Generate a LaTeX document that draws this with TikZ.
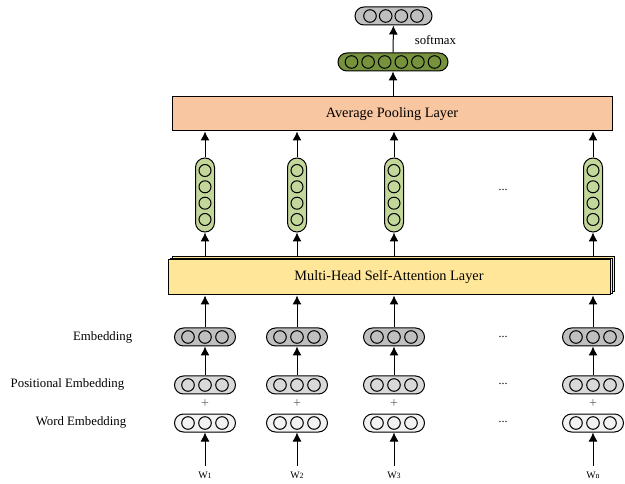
\documentclass[tikz,border=0pt]{standalone}
\usepackage{fontspec}
\setmainfont{Liberation Serif}
\usepackage{tikz}
\usetikzlibrary{calc,arrows.meta,shadows,positioning}

\definecolor{embgray}{HTML}{BFBFBF}
\definecolor{posgray}{HTML}{D9D9D9}
\definecolor{wordgray}{HTML}{F2F2F2}
\definecolor{hidgreen}{HTML}{C4D79B}
\definecolor{softgreen}{HTML}{76923C}
\definecolor{poolorange}{HTML}{F8C6A0}
\definecolor{attyellow}{HTML}{FFE699}

\begin{document}
\begin{tikzpicture}[x=1pt, y=1pt, line width=1pt,
    hcap/.style={draw, inner sep=0pt, minimum width=61pt, minimum height=18pt, rounded corners=9pt},
    vcap/.style={draw, inner sep=0pt, minimum width=19pt, minimum height=74pt, rounded corners=9.5pt, fill=hidgreen},
    arr/.style={-{Latex[length=9pt,width=9pt]}},
    lbl/.style={font=\fontsize{12.8}{14}\selectfont},
    layer/.style={draw, font=\fontsize{14.3}{16}\selectfont}]
    \useasboundingbox (0,0) rectangle (625,-484);

    \node[hcap, fill=embgray, minimum width=77pt] (out) at (393.5,-16) {};
    \foreach \d in {-23.5,-7.8,7.8,23.5} \draw[fill=embgray] ($(out)+(\d,0)$) circle (6.3pt);
    \node[hcap, fill=softgreen, minimum width=110pt] (soft) at (393,-62) {};
    \foreach \d in {-41.5,-24.9,-8.3,8.3,24.9,41.5} \draw[fill=softgreen] ($(soft)+(\d,0)$) circle (6.3pt);
    \node[lbl, anchor=west] (nsoft) at (411,-40) {softmax};
    \draw[arr] (soft) -- (out);

    \node[layer, fill=poolorange, minimum width=440pt, minimum height=34pt] (pool) at (392,-114) {Average Pooling Layer};
    \draw[arr] (pool.north -| soft) -- (soft);

    \node[layer, fill=attyellow, minimum width=442pt, minimum height=35pt,
          double copy shadow={shadow xshift=2pt, shadow yshift=1.6pt}] (mhsa) at (389,-277.5) {Multi-Head Self-Attention Layer};

    \foreach \i/\x/\s in {1/205/1, 2/297/2, 3/394/3, 4/593/n} {
        \node[vcap] (hid\i) at (\x,-195) {};
        \foreach \d in {-24.5,-8.2,8.2,24.5} \draw[fill=hidgreen] ($(hid\i)+(0,\d)$) circle (6pt);
        \node[hcap, fill=embgray] (emb\i) at (\x,-337) {};
        \node[hcap, fill=posgray] (pos\i) at (\x,-385) {};
        \node[hcap, fill=wordgray] (word\i) at (\x,-423) {};
        \foreach \d in {-17,0,17} {
            \draw[fill=embgray] ($(emb\i)+(\d,0)$) circle (6.3pt);
            \draw[fill=posgray] ($(pos\i)+(\d,0)$) circle (6.3pt);
            \draw[fill=wordgray] ($(word\i)+(\d,0)$) circle (6.3pt);
        }
        \node[black!60, font=\fontsize{14}{14}\selectfont] (plus\i) at (\x,-404) {+};
        \node[inner sep=5pt, font=\fontsize{10}{10}\selectfont] (w\i) at (\x,-475) {W{\fontsize{8}{8}\selectfont\s}};
        \draw[arr] (w\i) -- (word\i);
        \draw[arr] (pos\i) -- (emb\i);
        \draw[arr] (emb\i) -- (emb\i |- mhsa.south);
        \draw[arr] ($(mhsa.north -| hid\i)+(0,3)$) -- (hid\i);
        \draw[arr] (hid\i) -- (hid\i |- pool.south);
    }

    \node[font=\fontsize{12}{12}\selectfont] (dh) at (503,-190) {...};
    \node[font=\fontsize{12}{12}\selectfont] (de) at (503,-337) {...};
    \node[font=\fontsize{12}{12}\selectfont] (dp) at (503,-384) {...};
    \node[font=\fontsize{12}{12}\selectfont] (dw) at (503,-422) {...};

    \node[lbl, anchor=east] (nemb) at (136,-337) {Embedding};
    \node[lbl, anchor=east] (npos) at (128,-384) {Positional Embedding};
    \node[lbl, anchor=east] (nword) at (130,-422) {Word Embedding};
\end{tikzpicture}
\end{document}
